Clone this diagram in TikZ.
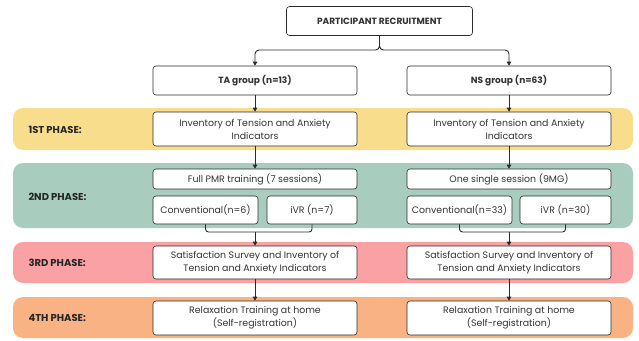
\documentclass[tikz,border=0pt]{standalone}
\usepackage{fontspec}
\setmainfont{Poppins}
\usetikzlibrary{arrows.meta}
\definecolor{bandY}{HTML}{F8DE8C}
\definecolor{bandG}{HTML}{A8CDBF}
\definecolor{bandP}{HTML}{F9A1A3}
\definecolor{bandO}{HTML}{F9B284}
\definecolor{lineC}{HTML}{2A2A2A}
\tikzset{
  box/.style={draw=lineC, line width=0.6pt, fill=white, rounded corners=3pt, align=center,
    inner sep=1pt, font=\fontsize{9.4}{13}\selectfont, text=black!80},
  bold/.style={font=\fontsize{9}{11}\selectfont\bfseries},
  band/.style={rounded corners=10pt, draw=none},
  phase/.style={anchor=west, font=\fontsize{10}{12}\selectfont\bfseries, text=black!85},
  arr/.style={draw=lineC, line width=0.9pt, -{Triangle[length=4pt,width=4.5pt]}},
  ln/.style={draw=lineC, line width=0.9pt},
}
\begin{document}
\begin{tikzpicture}[x=1pt,y=-1pt]
\useasboundingbox (0,0) rectangle (639,340);
% bands
\fill[band, bandY] (13,108) rectangle (633,150);
\fill[band, bandG] (13,163) rectangle (633,228);
\fill[band, bandP] (13,242) rectangle (633,283);
\fill[band, bandO] (13,297) rectangle (633,338);
\node[phase] (ph1) at (25,130) {1ST PHASE:};
\node[phase] (ph2) at (25,197) {2ND PHASE:};
\node[phase] (ph3) at (25,263) {3RD PHASE:};
\node[phase] (ph4) at (25,318) {4TH PHASE:};
% boxes
\node[box, bold, minimum width=186, minimum height=29] (P) at (379.5,21) {PARTICIPANT RECRUITMENT};
\node[box, bold, minimum width=204, minimum height=29] (TA) at (255,80.5) {TA group (n=13)};
\node[box, bold, minimum width=204, minimum height=29] (NS) at (509,80.5) {NS group (n=63)};
\node[box, minimum width=204, minimum height=34] (inv1) at (255,129) {Inventory of Tension and Anxiety\\Indicators};
\node[box, minimum width=204, minimum height=34] (inv2) at (509,129) {Inventory of Tension and Anxiety\\Indicators};
\node[box, minimum width=204, minimum height=20] (pmr) at (255,179) {Full PMR training (7 sessions)};
\node[box, minimum width=204, minimum height=20] (one) at (509,179) {One single session (9MG)};
\node[box, minimum width=105, minimum height=28] (conv1) at (205.5,210) {Conventional(n=6)};
\node[box, minimum width=90, minimum height=28] (ivr1) at (312,210) {iVR (n=7)};
\node[box, minimum width=105, minimum height=28] (conv2) at (459.5,210) {Conventional(n=33)};
\node[box, minimum width=91, minimum height=28] (ivr2) at (565.5,210) {iVR (n=30)};
\node[box, minimum width=204, minimum height=33] (sat1) at (255,262.5) {Satisfaction Survey and Inventory of\\Tension and Anxiety Indicators};
\node[box, minimum width=204, minimum height=33] (sat2) at (509,262.5) {Satisfaction Survey and Inventory of\\Tension and Anxiety Indicators};
\node[box, minimum width=204, minimum height=34] (rel1) at (255,318) {Relaxation Training at home\\(Self-registration)};
\node[box, minimum width=204, minimum height=34] (rel2) at (509,318) {Relaxation Training at home\\(Self-registration)};
% connectors
\coordinate (jt) at (379.5,50);
\draw[arr, rounded corners=4pt] (P.south) |- (jt) -| (TA.north);
\draw[arr, rounded corners=4pt] (P.south) |- (jt) -| (NS.north);
\draw[arr] (TA.south) -- (inv1.north);
\draw[arr] (NS.south) -- (inv2.north);
\draw[arr] (inv1.south) -- (pmr.north);
\draw[arr] (inv2.south) -- (one.north);
\coordinate (j1) at (255,232);
\coordinate (j2) at (509,232);
\draw[ln, rounded corners=3pt] (conv1.south) |- (j1) -| (ivr1.south);
\draw[ln, rounded corners=3pt] (conv2.south) |- (j2) -| (ivr2.south);
\draw[arr] (j1) -- (sat1.north);
\draw[arr] (j2) -- (sat2.north);
\draw[arr] (sat1.south) -- (rel1.north);
\draw[arr] (sat2.south) -- (rel2.north);
\end{tikzpicture}
\end{document}
